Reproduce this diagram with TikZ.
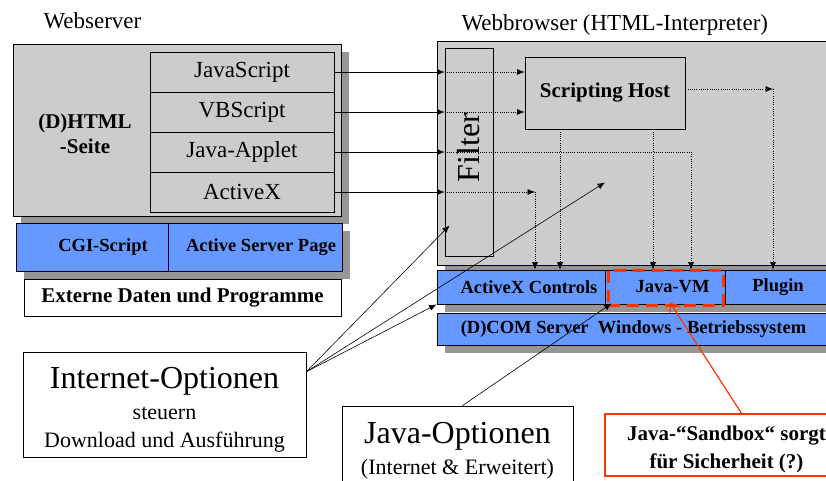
\documentclass[tikz,border=0pt]{standalone}
\usepackage{fontspec}
\setmainfont{Liberation Serif}
\usepackage{graphicx}
\usepackage{tikz}
\usetikzlibrary{arrows.meta, calc, shadows}
\definecolor{cGry}{HTML}{CCCCCC}
\definecolor{cShd}{HTML}{969696}
\definecolor{cBlu}{HTML}{6699FF}
\definecolor{cRed}{HTML}{FF3300}
\newcommand{\fnNorm}{\fontsize{23}{26}\selectfont}
\newcommand{\fnSub}{\fontsize{22}{28}\selectfont}
\newcommand{\fnBig}{\fontsize{32}{34}\selectfont}
\newcommand{\fnBold}{\fontsize{18.5}{22}\selectfont\bfseries}
\newcommand{\fnHead}{\fontsize{21}{25}\selectfont\bfseries}
\newcommand{\padL}[1]{\hspace*{#1}}

\begin{document}
\begin{tikzpicture}[
    x=1pt, y=-1pt,
    bx/.style={draw, line width=0.8pt, inner sep=0pt, align=center},
    gbx/.style={bx, fill=cGry},
    bbx/.style={bx, fill=cBlu, font=\fnBold},
    wbx/.style={bx, fill=white},
    shd/.style={drop shadow={shadow xshift=8pt, shadow yshift=-8pt, fill=cShd, opacity=1}},
    ar/.style={-{Latex[length=7.5pt,width=6pt]}, line width=0.6pt},
    da/.style={ar, dash pattern=on 1pt off 1.2pt},
    ra/.style={-{Straight Barb[length=8pt,width=12pt]}, draw=cRed, line width=1.2pt},
]
\useasboundingbox (0,0) rectangle (826,481);
\clip (0,0) rectangle (826,481);

% === WEBSERVER ===
\node[anchor=base west, font=\fnNorm] (tsrv) at (40,29) {Webserver};
\node[gbx, shd, minimum width=328pt, minimum height=172pt] (srv) at (177,130) {};
\node[font=\fnHead, align=center] (page) at (85,134) {(D)HTML\\-Seite};

\node[gbx, font=\fnNorm, minimum width=184pt, minimum height=40pt] (js)  at (242,72)  {JavaScript};
\node[gbx, font=\fnNorm, minimum width=184pt, minimum height=40pt] (vbs) at (242,112) {VBScript};
\node[gbx, font=\fnNorm, minimum width=184pt, minimum height=40pt] (jap) at (242,152) {Java-Applet};
\node[gbx, font=\fnNorm, minimum width=184pt, minimum height=40pt] (acx) at (242,192) {ActiveX};

\node[bbx, shd, minimum width=152pt, minimum height=48pt] (cgi) at (92,247)  {\padL{22pt}CGI-Script};
\node[bbx, shd, minimum width=174pt, minimum height=48pt] (asp) at (255,247) {\padL{12pt}Active Server Page};
\node[wbx, font=\fnHead, minimum width=317pt, minimum height=37pt] (ext) at (182.5,297.5) {Externe Daten und Programme};

% === WEBBROWSER ===
\node[anchor=base west, font=\fnNorm] (tbrw) at (458,31) {Webbrowser (HTML-Interpreter)};
\node[gbx, shd, minimum width=480pt, minimum height=224pt] (brw) at (677,153) {};
\node[gbx, font=\fnBig, minimum width=48pt, minimum height=208pt] (flt) at (469,152) {\rotatebox{90}{\padL{9pt}Filter}};
\node[gbx, font=\fnHead, minimum width=160pt, minimum height=72pt] (sh) at (605,93) {Scripting Host};

\node[bbx, shd, minimum width=168pt, minimum height=34pt] (axc) at (521,287) {\padL{16pt}ActiveX Controls};
\node[bbx, shd, minimum width=120pt, minimum height=34pt] (jvm) at (665,287) {\padL{15pt}Java-VM};
\node[bbx, shd, minimum width=106pt, minimum height=34pt] (plg) at (778,287) {Plugin};
\node[draw=cRed, line width=3pt, dash pattern=on 12pt off 7pt,
      minimum width=115pt, minimum height=35pt] (vmhl) at (665.5,287.5) {};
\node[bbx, shd, minimum width=393pt, minimum height=32pt] (com) at (633.5,329) {(D)COM Server~~Windows - Betriebssystem};

% === OPTIONS ===
\node[wbx, font=\fnSub, minimum width=283pt, minimum height=105pt] (iopt) at (164.5,404.5)
    {\rule{0pt}{32pt}{\fnBig Internet-Optionen}\\[3pt]steuern\\Download und Ausführung};
\node[wbx, font=\fnSub, minimum width=231pt, minimum height=90pt] (jopt) at (457.5,451)
    {{\fnBig Java-Optionen}\\[3pt](Internet \& Erweitert)};
\node[bx, draw=cRed, line width=1.3pt, fill=white, font=\fnHead, minimum width=243pt, minimum height=62pt] (sbox) at (726.5,445)
    {\rule{0pt}{24pt}Java-“Sandbox“ sorgt\\[3pt]für Sicherheit (?)};

% page items -> filter -> browser
\draw[ar] (js.east) -- (js.east -| flt.west);
\draw[da] (js.east -| flt.west) -- (js.east -| sh.west);
\draw[ar] (vbs.east) -- (vbs.east -| flt.west);
\draw[da] (vbs.east -| flt.west) -- (vbs.east -| sh.west);
\draw[ar] (jap.east) -- (jap.east -| flt.west);
\draw[da] (jap.east -| flt.west) -| ([xshift=26pt]jvm.north);
\draw[ar] (acx.east) -- (acx.east -| flt.west);
\coordinate (axk) at ([xshift=14pt]acx.east -| axc.north);
\draw[da] (acx.east -| flt.west) -- (axk);
\draw[da] (axk) -- (axk |- axc.north);

% scripting host outputs
\draw[da] ([xshift=-45pt]sh.south) -- ([xshift=-45pt]sh.south |- axc.north);
\draw[da] ([xshift=48pt]sh.south) -- ([xshift=48pt]sh.south |- jvm.north);
\coordinate (plk) at ([xshift=-5pt]plg.north |- sh.east);
\coordinate (plk) at ([yshift=4pt]plk);
\draw[da] ([yshift=4pt]sh.east) -- (plk);
\draw[da] (plk) -- (plk |- plg.north);

% options
\coordinate (iosrc) at ($(iopt.north east)!0.19!(iopt.south east)$);
\draw[ar] (iosrc) -- ($(flt.south west)+(5,-31)$);
\draw[ar] (iosrc) -- ($(sh.south)+(0,53)$);
\draw[ar] (iosrc) -- (axc.south west);
\draw[ar] ([xshift=5pt]jopt.north) -- ($(jvm.south west)+(7,-1)$);
\draw[ra] ([xshift=15pt]sbox.north) -- ($(jvm.south)+(5,-2)$);

\end{tikzpicture}
\end{document}
